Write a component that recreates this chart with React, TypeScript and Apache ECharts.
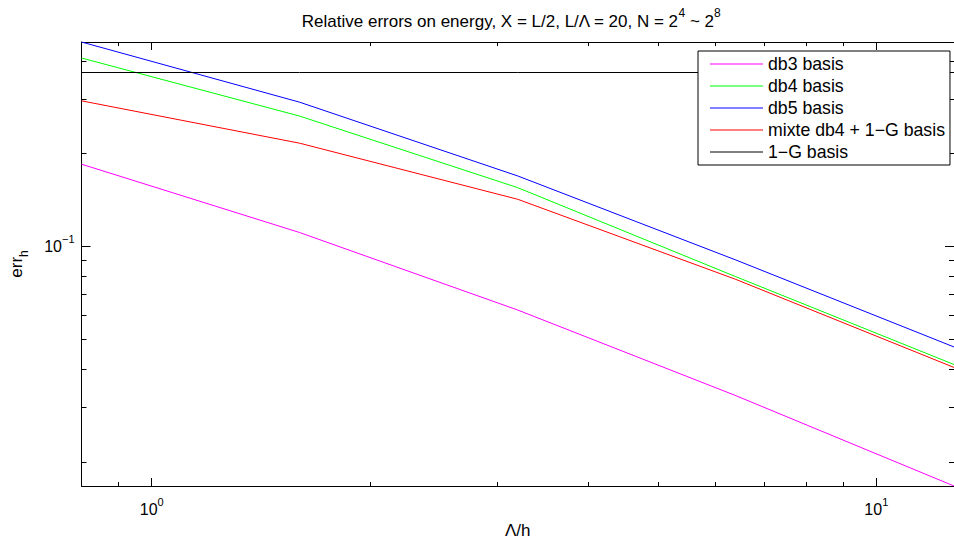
import React, { useEffect, useRef } from 'react';
import * as echarts from 'echarts';

const lambdaOverH = [0.8, 1.6, 3.2, 6.4, 12.8];
const db3 = [0.185, 0.111, 0.0622, 0.0328, 0.0167];
const db4 = [0.409, 0.265, 0.1552, 0.0798, 0.0414];
const db5 = [0.461, 0.294, 0.1694, 0.0904, 0.0472];
const mixte = [0.297, 0.2164, 0.1423, 0.0782, 0.0405];
const oneG = [0.367, 0.367, 0.367, 0.367, 0.367];
const seriesNames = ['db3 basis', 'db4 basis', 'db5 basis', 'mixte db4 + 1\u2212G basis', '1\u2212G basis'];
const seriesColors = ['#ff00ff', '#00ff00', '#0000ff', '#ff0000', '#000000'];
const xMajorTicks = [1, 10];
const xMinorTicks = [0.9, 2, 3, 4, 5, 6, 7, 8, 9];
const yMajorTicks = [0.1];
const yMinorTicks = [0.02, 0.03, 0.04, 0.05, 0.06, 0.07, 0.08, 0.09, 0.2, 0.3, 0.4];
const xRange = [0.8, 12.8];
const yRange = [0.0167, 0.461];

const FONT = 'Liberation Sans, Arial, Helvetica, sans-serif';

const supLabel = (v: number) => {
  const e = Math.round(Math.log10(v));
  const s = e < 0 ? '\u2212' + Math.abs(e) : String(e);
  return '{b|10}{s|' + s + '}';
};

const tickRich = {
  b: { fontSize: 16, lineHeight: 26, fontFamily: FONT, color: '#000' },
  s: { fontSize: 11, lineHeight: 11, verticalAlign: 'top', fontFamily: FONT, color: '#000' },
};

export default function App() {
  const ref = useRef<HTMLDivElement>(null);
  useEffect(() => {
    if (!ref.current) return;
    const chart = echarts.init(ref.current, undefined, { renderer: 'svg' });
    const lineAx = { show: true, lineStyle: { color: '#000', width: 1 } };
    const baseX = { type: 'log', logBase: 10, min: xRange[0], max: xRange[1], splitLine: { show: false }, minorTick: { show: false } };
    const baseY = { type: 'log', logBase: 10, min: yRange[0], max: yRange[1], splitLine: { show: false }, minorTick: { show: false } };
    const seriesData = [db3, db4, db5, mixte, oneG];
    chart.setOption({
      animation: false,
      backgroundColor: '#fff',
      textStyle: { fontFamily: FONT, color: '#000' },
      grid: { left: 80, top: 42, right: -5, bottom: 58, containLabel: false },
      xAxis: [
        {
          ...baseX, position: 'bottom', axisLine: lineAx,
          axisTick: { show: true, inside: true, length: 8, customValues: xMajorTicks, lineStyle: { color: '#000' } },
          axisLabel: { show: true, customValues: xMajorTicks, margin: 10, formatter: (v: number) => supLabel(v), rich: tickRich },
          name: '\u039b/h', nameLocation: 'middle', nameGap: 31,
          nameTextStyle: { fontSize: 17, fontFamily: FONT, color: '#000' },
        },
        {
          ...baseX, position: 'bottom', axisLine: { show: false },
          axisTick: { show: true, inside: true, length: 4, customValues: xMinorTicks, lineStyle: { color: '#000' } },
          axisLabel: { show: false },
        },
        {
          ...baseX, position: 'top', axisLine: lineAx,
          axisTick: { show: true, inside: true, length: 8, customValues: xMajorTicks, lineStyle: { color: '#000' } },
          axisLabel: { show: false },
        },
        {
          ...baseX, position: 'top', axisLine: { show: false },
          axisTick: { show: true, inside: true, length: 4, customValues: xMinorTicks, lineStyle: { color: '#000' } },
          axisLabel: { show: false },
        },
      ],
      yAxis: [
        {
          ...baseY, position: 'left', axisLine: lineAx,
          axisTick: { show: true, inside: true, length: 9, customValues: yMajorTicks, lineStyle: { color: '#000' } },
          axisLabel: { show: true, customValues: yMajorTicks, margin: 7, formatter: (v: number) => supLabel(v), rich: tickRich },
          name: '{e|err}{h|h}', nameLocation: 'middle', nameGap: 52, nameRotate: 90,
          nameTextStyle: {
            rich: {
              e: { fontSize: 17, lineHeight: 26, fontFamily: FONT, color: '#000' },
              h: { fontSize: 12, lineHeight: 12, verticalAlign: 'bottom', fontFamily: FONT, color: '#000' },
            },
          },
        },
        {
          ...baseY, position: 'left', axisLine: { show: false },
          axisTick: { show: true, inside: true, length: 5, customValues: yMinorTicks, lineStyle: { color: '#000' } },
          axisLabel: { show: false },
        },
        {
          ...baseY, position: 'right', axisLine: lineAx,
          axisTick: { show: true, inside: true, length: 9, customValues: yMajorTicks, lineStyle: { color: '#000' } },
          axisLabel: { show: false },
        },
        {
          ...baseY, position: 'right', axisLine: { show: false },
          axisTick: { show: true, inside: true, length: 5, customValues: yMinorTicks, lineStyle: { color: '#000' } },
          axisLabel: { show: false },
        },
      ],
      legend: {
        show: true,
        orient: 'vertical',
        left: 698,
        top: 51,
        padding: [2, 5, 2, 12],
        itemGap: 0,
        itemWidth: 53,
        itemHeight: 1,
        icon: 'rect',
        backgroundColor: '#fff',
        borderColor: '#000',
        borderWidth: 1,
        borderRadius: 0,
        textStyle: { fontSize: 17.7, lineHeight: 22, fontFamily: FONT, color: '#000' },
        data: seriesNames,
      },
      graphic: [
        {
          type: 'text',
          x: 511,
          y: 21,
          style: {
            text: 'Relative errors on energy, X = L/2, L/\u039b = 20, N = 2{s|4} ~ 2{s|8}',
            align: 'center',
            verticalAlign: 'middle',
            fontSize: 17,
            lineHeight: 28,
            fontFamily: FONT,
            fill: '#000',
            rich: {
              s: { fontSize: 12, lineHeight: 12, verticalAlign: 'top', fontFamily: FONT, fill: '#000' },
            },
          },
        },
      ],
      series: seriesNames.map((name, i) => ({
        name,
        type: 'line',
        xAxisIndex: 0,
        yAxisIndex: 0,
        symbol: 'none',
        showSymbol: false,
        lineStyle: { color: seriesColors[i], width: 1 },
        itemStyle: { color: seriesColors[i] },
        data: lambdaOverH.map((x, j) => [x, seriesData[i][j]]),
      })),
    });
    return () => chart.dispose();
  }, []);
  return <div ref={ref} style={{ position: 'fixed', left: 0, top: 0, width: 954, height: 544 }} />;
}
